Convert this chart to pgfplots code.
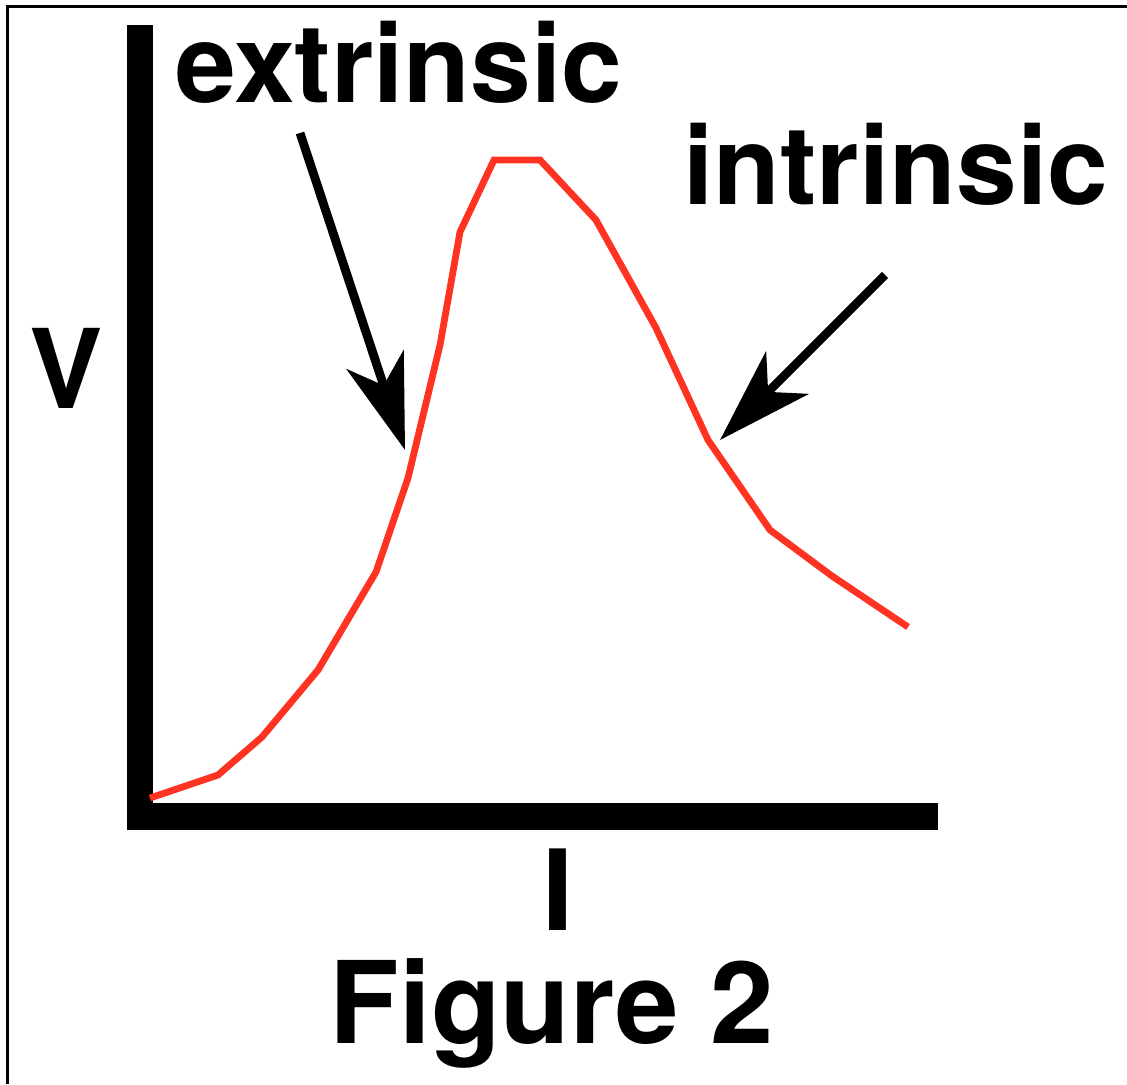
\documentclass[border=0pt]{standalone}
\usepackage{fontspec}
\setmainfont{TeX Gyre Heros}
\usepackage{pgfplots}
\pgfplotsset{compat=1.18}
\usetikzlibrary{arrows.meta}
\definecolor{curvered}{RGB}{255,51,34}
\begin{document}
\begin{tikzpicture}
\useasboundingbox (0,0) rectangle (563.5pt,542pt);
\begin{axis}[hide axis, scale only axis, width=563.5pt, height=542pt,
  xmin=0, xmax=1127, ymin=0, ymax=1084, clip=false]
% border (top and left)
\draw[line width=1.5pt] (axis cs:7,0) -- (axis cs:7,1077) -- (axis cs:1127,1077);
% thick axes
\fill[black] (axis cs:127,254) rectangle (axis cs:153,1059);
\fill[black] (axis cs:127,254) rectangle (axis cs:938,281);
% curve
\addplot[color=curvered, line width=3.4pt, line join=miter] coordinates {
(150,286) (218,309) (262,347) (318,414) (376,512) (408,606) (440,739)
(460,852) (494,924) (540,924) (596,864) (656,756) (708,644) (770,554)
(832,508) (908,457)};
% arrows
\draw[line width=4.4pt, -{Stealth[length=47.5pt, width=30pt, inset=13.5pt]}]
  (axis cs:300,951) -- (axis cs:405,634);
\draw[line width=4.4pt, -{Stealth[length=47.5pt, width=30pt, inset=13.5pt]}]
  (axis cs:885,809) -- (axis cs:720,644);
% texts
\node[anchor=base west, inner sep=0pt, font=\fontsize{54.6}{60}\selectfont\bfseries] at (axis cs:175,981) {extrinsic};
\node[anchor=base west, inner sep=0pt, font=\fontsize{54.6}{60}\selectfont\bfseries] at (axis cs:683,879) {intrinsic};
\node[anchor=base west, inner sep=0pt, font=\fontsize{55}{60}\selectfont\bfseries] at (axis cs:29,676) {V};
\node[anchor=base, inner sep=0pt, font=\fontsize{56}{60}\selectfont\bfseries] at (axis cs:558,154) {I};
\node[anchor=base, inner sep=0pt, font=\fontsize{57}{60}\selectfont\bfseries] at (axis cs:552,41) {Figure 2};
\end{axis}
\end{tikzpicture}
\end{document}
